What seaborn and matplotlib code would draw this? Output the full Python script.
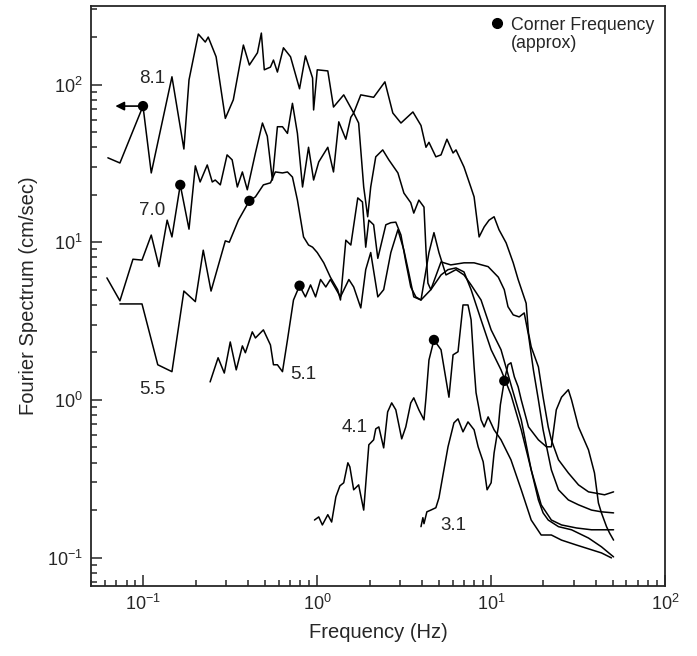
import pandas as pd
import matplotlib
matplotlib.use("Agg")
import matplotlib.pyplot as plt
from matplotlib.lines import Line2D
import seaborn as sns

# Fourier amplitude spectra (frequency in Hz, amplitude in cm/sec)
freq_81 = [0.0625, 0.0733, 0.0995, 0.111, 0.146, 0.171, 0.183, 0.207, 0.227, 0.236,
           0.262, 0.296, 0.329, 0.376, 0.407, 0.453, 0.477, 0.496, 0.538, 0.560,
           0.590, 0.639, 0.702, 0.791, 0.855, 0.940, 0.953, 1.00, 1.15, 1.24,
           1.42, 1.62, 1.78, 2.11, 2.45, 2.72, 3.03, 3.55, 3.95, 4.22,
           4.39, 4.81, 5.15, 5.57, 6.04, 6.28, 6.98, 7.67, 7.98, 8.53,
           9.12, 9.73, 10.4, 11.1, 12.2, 13.4, 14.3, 15.9, 16.4, 17.0,
           18.7, 19.9, 21.3, 22.2, 24.4, 27.8, 31.8, 36.3, 39.3, 44.9, 50.6]
amp_81 = [34.3, 31.8, 73, 27.5, 112, 39, 107, 209, 186, 200,
          150, 61, 80, 178, 133, 159, 212, 124, 129, 143,
          120, 171, 150, 94, 152, 110, 69, 124, 122, 72,
          86, 66, 86, 83, 104, 66, 57, 67, 55, 40,
          43, 34.8, 35.8, 45, 36.8, 38.5, 30, 22.1, 19.4, 10.8,
          12.5, 13.8, 14.5, 12.0, 9.9, 7.4, 5.8, 4.1, 2.66, 2.17,
          1.62, 1.04, 0.674, 0.558, 0.417, 0.344, 0.289, 0.261, 0.257, 0.250, 0.261]

freq_70 = [0.0617, 0.0733, 0.0871, 0.0982, 0.111, 0.123, 0.137, 0.146, 0.163, 0.183,
           0.199, 0.212, 0.233, 0.249, 0.259, 0.277, 0.303, 0.324, 0.347, 0.371,
           0.396, 0.441, 0.484, 0.516, 0.552, 0.590, 0.631, 0.674, 0.720, 0.769,
           0.823, 0.891, 0.953, 1.02, 1.15, 1.24, 1.33, 1.46, 1.56, 1.62,
           1.73, 1.85, 1.95, 2.03, 2.17, 2.38, 2.58, 2.91, 3.15, 3.45,
           3.59, 3.84, 4.11, 4.22, 4.33, 4.50, 5.15, 5.86, 6.98, 7.98,
           9.61, 11.0, 11.9, 12.5, 13.4, 14.5, 15.5, 16.4, 17.5, 18.7,
           19.9, 22.2, 24.4, 27.8, 31.8, 37.8, 43.1, 50.6]
amp_70 = [5.94, 4.25, 7.8, 7.7, 11.1, 7.0, 13.8, 10.8, 23.1, 12.1,
          30.5, 24.1, 30.9, 24.1, 24.8, 23.1, 35.8, 33.3, 22.4, 27.9,
          21.5, 36.8, 57, 47, 24.8, 54, 54, 49, 76, 49,
          22.4, 40, 24.8, 32.3, 40, 27.9, 58, 45, 62, 66,
          57, 22.4, 14.5, 22.4, 34.8, 38.5, 33.3, 27.5, 20.5, 17.8,
          15.3, 18.5, 16.7, 8.9, 5.5, 5.0, 7.5, 7.18, 7.4, 7.4,
          7.0, 6.0, 5.0, 3.9, 3.46, 3.36, 3.56, 2.58, 1.55, 1.0,
          0.646, 0.360, 0.269, 0.232, 0.216, 0.200, 0.195, 0.192]

freq_55 = [0.0733, 0.0982, 0.121, 0.146, 0.171, 0.199, 0.221, 0.245, 0.296, 0.312,
           0.352, 0.407, 0.441, 0.490, 0.538, 0.574, 0.631, 0.674, 0.720, 0.769,
           0.834, 0.891, 0.940, 1.00, 1.09, 1.19, 1.31, 1.36, 1.46, 1.56,
           1.71, 1.82, 1.90, 1.98, 2.11, 2.23, 2.48, 2.65, 2.83, 3.03,
           3.23, 3.45, 3.69, 3.95, 4.39, 4.69, 5.01, 5.50, 6.28, 6.98,
           7.67, 8.75, 10.0, 11.4, 13.0, 14.9, 17.0, 19.4, 22.2, 25.4,
           31.0, 37.8, 50.6]
amp_55 = [4.06, 4.06, 1.67, 1.51, 4.9, 4.2, 8.9, 4.9, 10.2, 10.0,
          13.8, 18.3, 19.4, 23.1, 23.8, 27.9, 27.5, 27.9, 25.9, 18.5,
          10.8, 9.6, 9.3, 8.6, 7.4, 6.0, 5.0, 4.3, 10.3, 9.6,
          19.1, 18.0, 9.3, 13.8, 12.9, 7.9, 12.9, 13.3, 13.4, 11.1,
          7.5, 5.2, 4.5, 4.3, 8.6, 11.5, 8.6, 6.2, 6.7, 6.2,
          5.36, 4.3, 2.78, 2.08, 1.25, 0.747, 0.360, 0.216, 0.173, 0.161,
          0.154, 0.150, 0.150]

freq_51 = [0.242, 0.269, 0.292, 0.316, 0.342, 0.371, 0.386, 0.423, 0.441, 0.490,
           0.538, 0.560, 0.590, 0.631, 0.674, 0.730, 0.791, 0.855, 0.915, 0.978,
           1.045, 1.12, 1.19, 1.36, 1.52, 1.62, 1.78, 1.90, 2.03, 2.23,
           2.41, 2.65, 2.91, 3.15, 3.36, 3.59, 3.95, 4.50, 5.15, 5.65,
           6.28, 6.98, 7.67, 8.75, 10.0, 11.4, 13.0, 14.9, 17.0, 18.7,
           19.9, 21.3, 24.4, 29.0, 36.3, 43.1, 50.6]
amp_51 = [1.30, 1.85, 1.48, 2.33, 1.55, 2.20, 1.99, 2.70, 2.47, 2.78,
          2.23, 1.67, 1.67, 1.51, 2.40, 4.3, 5.3, 4.5, 5.36, 4.5,
          5.8, 5.2, 5.8, 4.5, 5.8, 5.2, 3.83, 6.7, 8.6, 4.5,
          5.0, 8.6, 12.0, 8.9, 6.4, 4.5, 4.3, 5.0, 6.2, 6.7,
          6.87, 6.48, 5.0, 3.22, 2.08, 1.55, 1.08, 0.646, 0.360, 0.232,
          0.192, 0.173, 0.157, 0.150, 0.133, 0.117, 0.101]

freq_41 = [0.964, 1.02, 1.07, 1.15, 1.21, 1.28, 1.35, 1.42, 1.50, 1.54,
           1.62, 1.73, 1.85, 1.98, 2.11, 2.17, 2.26, 2.41, 2.54, 2.68,
           2.83, 3.06, 3.23, 3.45, 3.59, 3.84, 4.11, 4.22, 4.39, 4.69,
           5.15, 5.72, 6.04, 6.45, 6.89, 7.36, 7.67, 7.98, 8.19, 8.75,
           9.12, 9.61, 10.4, 11.4, 13.0, 14.9, 17.0, 19.4, 22.2, 25.4,
           31.0, 37.8, 43.1, 49.2]
amp_41 = [0.173, 0.181, 0.161, 0.187, 0.168, 0.243, 0.285, 0.298, 0.399, 0.376,
          0.269, 0.289, 0.200, 0.519, 0.558, 0.655, 0.674, 0.496, 0.839, 0.957,
          0.865, 0.566, 0.674, 0.957, 1.03, 0.865, 0.747, 1.03, 1.79, 2.40,
          2.08, 1.04, 1.93, 2.02, 4.0, 4.0, 3.22, 1.62, 1.11, 0.747,
          0.674, 0.780, 0.646, 0.558, 0.417, 0.269, 0.173, 0.139, 0.139, 0.129,
          0.120, 0.112, 0.107, 0.0995]

freq_31 = [3.95, 4.05, 4.11, 4.27, 4.50, 4.81, 5.01, 5.35, 5.65, 6.11,
           6.45, 6.89, 7.36, 7.98, 8.42, 9.00, 9.48, 10.0, 10.4, 11.0,
           11.3, 11.9, 12.5, 13.0, 13.6, 14.3, 14.9, 16.4, 18.7, 20.8,
           22.2, 23.7, 25.4, 27.8, 29.0, 31.8, 36.3, 39.3, 41.4, 43.1,
           46.1, 48.0, 50.6]
amp_31 = [0.157, 0.179, 0.164, 0.195, 0.200, 0.207, 0.239, 0.360, 0.504, 0.715,
          0.758, 0.627, 0.725, 0.646, 0.504, 0.405, 0.269, 0.298, 0.461, 0.674,
          0.930, 1.32, 1.67, 1.72, 1.40, 1.21, 1.0, 0.674, 0.558, 0.504,
          0.504, 0.865, 1.04, 1.16, 1.0, 0.674, 0.482, 0.344, 0.222, 0.192,
          0.157, 0.143, 0.129]

magnitudes = ["8.1", "7.0", "5.5", "5.1", "4.1", "3.1"]

# approximate corner frequencies (dots)
corner_freq = [0.0995, 0.163, 0.407, 0.791, 4.69, 11.9]
corner_amp = [73, 23.1, 18.3, 5.3, 2.40, 1.32]
arrow_tip_freq = 0.069

# where the magnitude labels sit
label_freq = [0.112, 0.113, 0.113, 0.834, 1.64, 6.04]
label_amp = [110, 15.8, 1.16, 1.44, 0.664, 0.159]

curves = {
    "8.1": (freq_81, amp_81),
    "7.0": (freq_70, amp_70),
    "5.5": (freq_55, amp_55),
    "5.1": (freq_51, amp_51),
    "4.1": (freq_41, amp_41),
    "3.1": (freq_31, amp_31),
}
df = pd.concat(
    [pd.DataFrame({"freq": f, "amp": a, "event": m}) for m, (f, a) in curves.items()],
    ignore_index=True,
)

sns.set_style("ticks")
plt.rcParams["font.family"] = ["Liberation Sans", "DejaVu Sans"]

fig = plt.figure(figsize=(6.97, 6.56), dpi=100)
ax = fig.add_axes([0.1306, 0.1067, 0.8235, 0.8842])

sns.lineplot(data=df, x="freq", y="amp", units="event", estimator=None, sort=False,
             color="black", linewidth=1.1, legend=False, ax=ax)
sns.scatterplot(x=corner_freq, y=corner_amp, color="black", s=55, edgecolor="none",
                zorder=5, ax=ax)

# arrow on the 8.1 corner pointing to lower frequencies
ax.annotate("", xy=(arrow_tip_freq, corner_amp[0]), xytext=(corner_freq[0], corner_amp[0]),
            arrowprops=dict(arrowstyle="-|>", color="black", lw=1.2, mutation_scale=13,
                            shrinkA=0, shrinkB=0))

for m, fx, ay in zip(magnitudes, label_freq, label_amp):
    ax.text(fx, ay, m, fontsize=13.5, ha="center", va="center")

ax.set_xscale("log")
ax.set_yscale("log")
ax.set_xlim(0.05, 100)
ax.set_ylim(0.066, 315)

ax.set_xlabel("Frequency (Hz)", fontsize=14.5, labelpad=6)
ax.set_ylabel("Fourier Spectrum (cm/sec)", fontsize=14.5, labelpad=6)

ax.tick_params(which="both", direction="in", top=False, right=False, width=1.1,
               labelsize=13, pad=6)
ax.tick_params(which="major", length=8)
ax.tick_params(which="minor", length=4.5)
for s in ax.spines.values():
    s.set_linewidth(1.3)
    s.set_visible(True)

handles = [Line2D([], [], marker="o", ls="", color="black", markersize=7),
           Line2D([], [], marker="", ls="")]
ax.legend(handles=handles, labels=["Corner Frequency", "(approx)"], loc="upper right",
          frameon=False, fontsize=12.8, handletextpad=0.2, labelspacing=0.1,
          handlelength=1.2, borderaxespad=0.2)

fig.savefig("out.png", dpi=100)
